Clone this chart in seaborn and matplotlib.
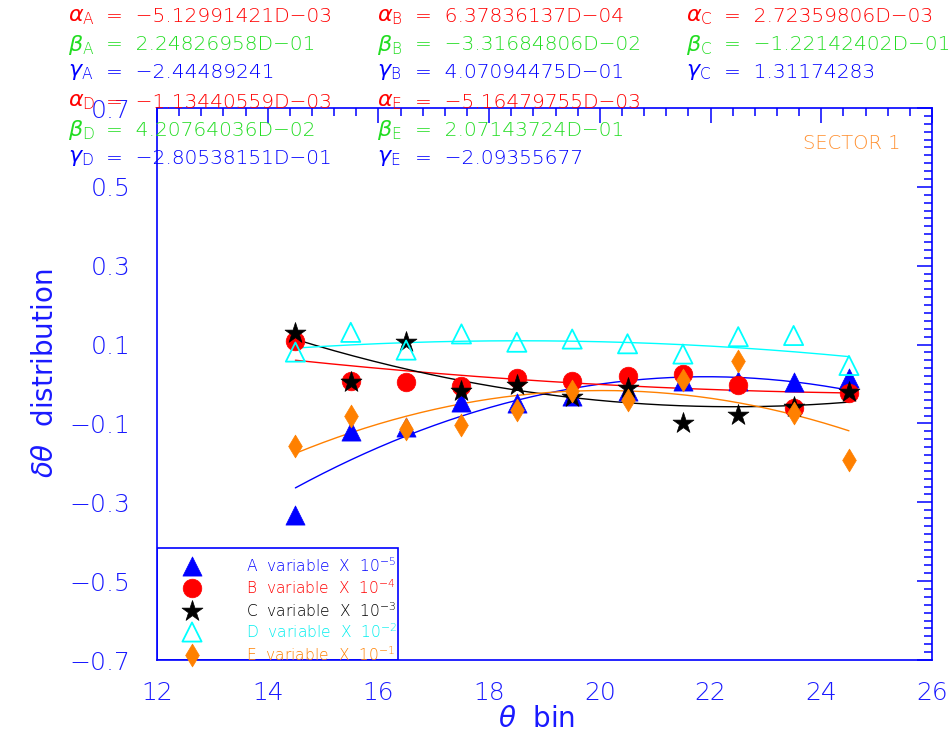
import numpy as np
import pandas as pd
import matplotlib
matplotlib.use("Agg")
import matplotlib.pyplot as plt
import seaborn as sns
from matplotlib.patches import Rectangle
from matplotlib.ticker import MultipleLocator

# ---------------- data ----------------
theta_bins = [14.5, 15.5, 16.5, 17.5, 18.5, 19.5, 20.5, 21.5, 22.5, 23.5, 24.5]
var_a = [-0.333, -0.119, -0.110, -0.045, -0.049, -0.030, -0.019, 0.008, 0.008, 0.004, 0.015]
var_b = [0.110, 0.008, 0.004, -0.004, 0.014, 0.007, 0.021, 0.025, -0.002, -0.061, -0.024]
var_c = [0.130, 0.006, 0.106, -0.017, -0.002, -0.034, -0.010, -0.100, -0.078, -0.059, -0.021]
var_d = [0.081, 0.131, 0.086, 0.127, 0.106, 0.114, 0.102, 0.076, 0.120, 0.123, 0.047]
var_e = [-0.157, -0.080, -0.113, -0.103, -0.066, -0.017, -0.041, 0.011, 0.058, -0.074, -0.192]

series_names = ["A", "B", "C", "D", "E"]
scale_exponents = ["-5", "-4", "-3", "-2", "-1"]

# fitted polynomial coefficients  (alpha*x^2 + beta*x + gamma)
coef_alpha = [-5.12991421e-03, 6.37836137e-04, 2.72359806e-03, -1.13440559e-03, -5.16479755e-03]
coef_beta = [2.24826958e-01, -3.31684806e-02, -1.22142402e-01, 4.20764036e-02, 2.07143724e-01]
coef_gamma = [-2.44489241, 4.07094475e-01, 1.31174283, -2.80538151e-01, -2.09355677]
alpha_text = ["−5.12991421D−03", "6.37836137D−04", "2.72359806D−03", "−1.13440559D−03", "−5.16479755D−03"]
beta_text = ["2.24826958D−01", "−3.31684806D−02", "−1.22142402D−01", "4.20764036D−02", "2.07143724D−01"]
gamma_text = ["−2.44489241", "4.07094475D−01", "1.31174283", "−2.80538151D−01", "−2.09355677"]

y_ticks = [-0.7, -0.5, -0.3, -0.1, 0.1, 0.3, 0.5, 0.7]
y_tick_labels = ["−0.7", "−0.5", "−0.3", "−0.1", "0.1", "0.3", "0.5", "0.7"]
x_ticks = [12, 14, 16, 18, 20, 22, 24, 26]

# ---------------- style ----------------
BLUE = "#0000ff"
LBLUE = "#1a1aff"
RED = "#ff0000"
GREEN = "#22dd22"
CYAN = "#00ffff"
ORANGE = "#ff8000"
colors = [BLUE, RED, "#000000", CYAN, ORANGE]
text_colors = [BLUE, RED, "#000000", "#00eeee", ORANGE]

sns.set_theme(style="white")
plt.rcParams["font.family"] = ["DejaVu Sans"]
plt.rcParams["font.weight"] = "light"
plt.rcParams["mathtext.fontset"] = "dejavusans"

fig = plt.figure(figsize=(9.5, 7.48), dpi=100)
ax = fig.add_axes([157 / 950, 1 - 660 / 748, 775 / 950, 552 / 748])

df = pd.DataFrame({"theta": theta_bins, "A": var_a, "B": var_b, "C": var_c, "D": var_d, "E": var_e})

# fit curves
xfit = np.linspace(theta_bins[0], theta_bins[-1], 200)
for i, name in enumerate(series_names):
    yfit = coef_alpha[i] * xfit ** 2 + coef_beta[i] * xfit + coef_gamma[i]
    sns.lineplot(x=xfit, y=yfit, ax=ax, color=colors[i], lw=1.0, zorder=2)

marker_specs = {
    "A": dict(marker="^", s=190, color=BLUE, edgecolor=BLUE, linewidth=0.5),
    "B": dict(marker="o", s=180, color=RED, edgecolor=RED, linewidth=0.5),
    "C": dict(marker="*", s=250, color="black", edgecolor="black", linewidth=0.5),
    "D": dict(marker="^", s=190, facecolor="none", edgecolor=CYAN, linewidth=1.3),
    "E": dict(marker="d", s=135, color=ORANGE, edgecolor=ORANGE, linewidth=0.5),
}
for k, name in enumerate(series_names):
    sns.scatterplot(data=df, x="theta", y=name, ax=ax, zorder=3 + k, **marker_specs[name])

ax.set_xlim(12, 26)
ax.set_ylim(-0.7, 0.7)
ax.set_xticks(x_ticks)
ax.set_xticklabels([str(t) for t in x_ticks])
ax.set_yticks(y_ticks)
ax.set_yticklabels(y_tick_labels)
ax.xaxis.set_minor_locator(MultipleLocator(0.4))
ax.yaxis.set_minor_locator(MultipleLocator(0.02))
ax.tick_params(which="both", direction="in", top=True, right=True, color=BLUE, width=1.1)
ax.tick_params(which="major", length=11, labelsize=18, labelcolor=LBLUE)
ax.tick_params(axis="y", which="major", pad=19)
ax.tick_params(axis="x", which="major", pad=15)
ax.tick_params(which="minor", length=5.5)
for sp in ax.spines.values():
    sp.set_color(BLUE)
    sp.set_linewidth(1.2)

ax.set_xlabel(r"$\theta$  bin", fontsize=20, color=LBLUE, labelpad=0, x=0.49)
ax.set_ylabel(r"$\delta\theta$  distribution", fontsize=20, color=LBLUE, labelpad=8, y=0.52)
ax.grid(False)

ax.text(0.96, 0.935, "SECTOR 1", transform=ax.transAxes, ha="right", va="center",
        fontsize=14, color="#ff9030")

# legend (manual box)
ax.add_patch(Rectangle((0, 0), 241 / 775, 112 / 552, transform=ax.transAxes, fill=False,
                       edgecolor=BLUE, lw=1.2, zorder=20))
row_y = [(660 - y) / 552 for y in (566, 588, 611, 632, 655)]
for k, name in enumerate(series_names):
    spec = dict(marker_specs[name])
    ax.scatter([35 / 775], [row_y[k]], transform=ax.transAxes, clip_on=False, zorder=21, **spec)
    ax.text(89 / 775, row_y[k], f"{name}  variable  X  $10^{{{scale_exponents[k]}}}$".replace("-", "−"),
            transform=ax.transAxes, fontsize=11.2, color=text_colors[k], va="center", ha="left", zorder=21)

# coefficient block
col_x = [68 / 950, 377 / 950, 686 / 950]
row_ys = [17, 45, 72, 102, 130, 158]
greek = [r"\alpha", r"\beta", r"\gamma"]
gcols = [RED, GREEN, BLUE]
vals = [alpha_text, beta_text, gamma_text]
for i, name in enumerate(series_names):
    block = 0 if i < 3 else 1
    col = i if i < 3 else i - 3
    for g in range(3):
        yy = 1 - row_ys[block * 3 + g] / 748
        fig.text(col_x[col], yy, f"${greek[g]}_{{\\mathrm{{{name}}}}}$", fontsize=16,
                 color=gcols[g], ha="left", va="center")
        fig.text(col_x[col] + 38 / 950, yy, f"=  {vals[g][i]}", fontsize=14.5,
                 color=gcols[g], ha="left", va="center")

fig.savefig("out.png", dpi=100)
